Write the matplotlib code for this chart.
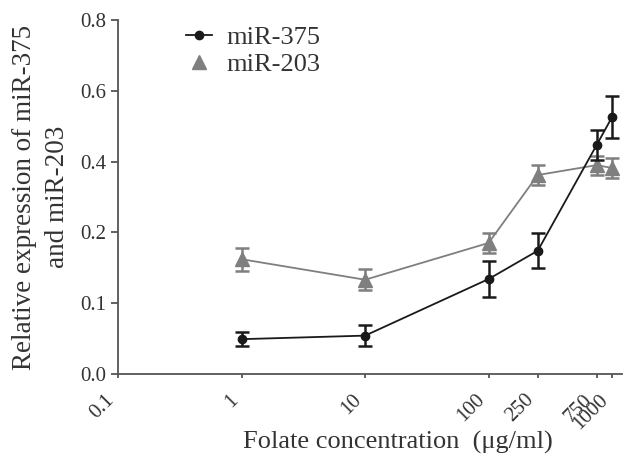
import numpy as np
import matplotlib
matplotlib.use("Agg")
import matplotlib.pyplot as plt
from matplotlib.lines import Line2D
from matplotlib.transforms import ScaledTranslation

# Data
conc = [1, 10, 100, 250, 750, 1000]
mir375 = [0.049, 0.054, 0.134, 0.174, 0.447, 0.526]
mir375_err = [0.010, 0.015, 0.025, 0.025, 0.042, 0.059]
mir203 = [0.162, 0.133, 0.185, 0.362, 0.390, 0.382]
mir203_err = [0.016, 0.015, 0.014, 0.028, 0.027, 0.028]
xticks = [0.1, 1, 10, 100, 250, 750, 1000]
xticklabels = ["0.1", "1", "10", "100", "250", "750", "1000"]
yticks = [0.0, 0.1, 0.2, 0.4, 0.6, 0.8]
yticklabels = ["0.0", "0.1", "0.2", "0.4", "0.6", "0.8"]

plt.rcParams['font.family'] = ['Liberation Serif', 'DejaVu Serif']

def fwd(y):
    y = np.asarray(y, dtype=float)
    return np.where(y <= 0.2, y / 0.1, 2 + (y - 0.2) / 0.2)

def inv(p):
    p = np.asarray(p, dtype=float)
    return np.where(p <= 2, p * 0.1, 0.2 + (p - 2) * 0.2)

fig = plt.figure(figsize=(6.25, 4.57), dpi=100)
ax = fig.add_axes([0.189, 0.182, 0.806, 0.774])
ax.set_yscale('function', functions=(fwd, inv))
ax.set_xscale('log')

black = '#1a1a1a'
gray = '#7f7f7f'
txt = '#333333'

ax.errorbar(conc, mir203, yerr=mir203_err, color=gray, marker='^', markersize=10,
            lw=1.3, elinewidth=1.8, capsize=5, capthick=1.8, zorder=2)
ax.errorbar(conc, mir375, yerr=mir375_err, color=black, marker='o', markersize=6,
            lw=1.3, elinewidth=1.8, capsize=5, capthick=1.8, zorder=3)

ax.set_xlim(0.1, 1200)
ax.set_ylim(0, 0.8)
ax.set_xticks(xticks)
ax.set_xticklabels(xticklabels, rotation=45, ha='right', fontsize=15, color=txt)
off = ScaledTranslation(8 / 100, 0, fig.dpi_scale_trans)
for lab in ax.get_xticklabels():
    lab.set_transform(lab.get_transform() + off)
ax.xaxis.set_minor_locator(matplotlib.ticker.NullLocator())
ax.set_yticks(yticks)
ax.set_yticklabels(yticklabels, fontsize=15, color=txt)
ax.yaxis.set_minor_locator(matplotlib.ticker.NullLocator())

for s in ['top', 'right']:
    ax.spines[s].set_visible(False)
for s in ['left', 'bottom']:
    ax.spines[s].set_color('#555555')
    ax.spines[s].set_linewidth(1.3)
ax.tick_params(colors='#555555', width=1.3, length=5, labelcolor=txt)
ax.tick_params(axis='x', length=3, pad=9)

fig.text(398 / 625, 1 - 442 / 457, 'Folate concentration  (μg/ml)', fontsize=19,
         color=txt, ha='center', va='center')
fig.text(41 / 625, 1 - 197 / 457, 'Relative expression of miR-375\nand miR-203', fontsize=19.5,
         color=txt, ha='center', va='center', rotation=90, multialignment='center',
         linespacing=1.45)

handles = [Line2D([], [], color=black, marker='o', markersize=6, lw=1.3),
           Line2D([], [], color=gray, marker='^', markersize=10, lw=0)]
leg = ax.legend(handles, ['miR-375', 'miR-203'], loc='upper left',
                bbox_to_anchor=(186 / 625, 1 - 26 / 457, 0, 0),
                bbox_transform=fig.transFigure, frameon=False, fontsize=19,
                handlelength=1.0, handletextpad=0.55, labelspacing=0.12, borderaxespad=0,
                borderpad=0)
for t in leg.get_texts():
    t.set_color(txt)

fig.savefig('out.png', dpi=100)
